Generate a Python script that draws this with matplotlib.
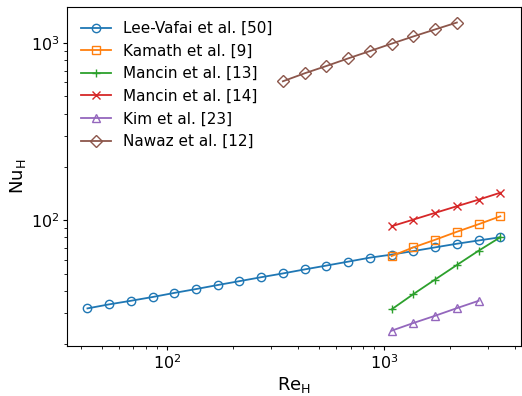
import matplotlib
matplotlib.use("Agg")
import matplotlib.pyplot as plt

# Reynolds numbers
re_lee = [43, 54, 68, 86, 108, 136, 171, 215, 271, 341,
          430, 541, 681, 857, 1079, 1359, 1711, 2154, 2712, 3414]
nu_lee = [31.8, 33.5, 35.1, 36.9, 38.9, 40.9, 43.1, 45.3, 47.7, 50.1,
          52.8, 55.5, 58.4, 61.5, 64.0, 67.0, 70.3, 73.7, 76.9, 80.2]

re_exp = [1079, 1359, 1711, 2154, 2712, 3414]
nu_kamath = [62.8, 70.3, 77.6, 86.1, 95.0, 105.3]
nu_mancin13 = [31.4, 38.3, 46.3, 55.9, 67.3, 80.2]
nu_mancin14 = [92.5, 100.9, 110.1, 120.0, 130.7, 143.1]

re_kim = [1079, 1359, 1711, 2154, 2712]
nu_kim = [23.8, 26.3, 28.9, 31.9, 35.1]

re_nawaz = [341, 430, 541, 681, 857, 1079, 1359, 1711, 2154]
nu_nawaz = [609, 676, 743, 820, 902, 993, 1091, 1195, 1307]

plt.rcParams['font.size'] = 11.5
plt.rcParams['lines.linewidth'] = 1.3
plt.rcParams['lines.markersize'] = 6
plt.rcParams['lines.markeredgewidth'] = 1.0
plt.rcParams['xtick.major.size'] = 3
plt.rcParams['ytick.major.size'] = 3
plt.rcParams['xtick.minor.size'] = 2
plt.rcParams['ytick.minor.size'] = 2
plt.rcParams['xtick.major.pad'] = 2.5
plt.rcParams['ytick.major.pad'] = 2.5

fig = plt.figure(figsize=(5.22, 3.96), dpi=100)
ax = fig.add_axes([0.128, 0.126, 0.87, 0.856])

ax.plot(re_lee, nu_lee, marker='o', fillstyle='none', label='Lee-Vafai et al. [50]')
ax.plot(re_exp, nu_kamath, marker='s', fillstyle='none', label='Kamath et al. [9]')
ax.plot(re_exp, nu_mancin13, marker='+', label='Mancin et al. [13]')
ax.plot(re_exp, nu_mancin14, marker='x', label='Mancin et al. [14]')
ax.plot(re_kim, nu_kim, marker='^', fillstyle='none', label='Kim et al. [23]')
ax.plot(re_nawaz, nu_nawaz, marker='D', fillstyle='none', label='Nawaz et al. [12]')

ax.set_xscale('log')
ax.set_yscale('log')
ax.set_xlabel(r'$\mathrm{Re_H}$', fontsize=13, labelpad=2)
ax.set_ylabel(r'$\mathrm{Nu_H}$', fontsize=13, labelpad=2)
ax.legend(loc='upper left', frameon=False, fontsize=11)

fig.savefig('out.png', dpi=100)
